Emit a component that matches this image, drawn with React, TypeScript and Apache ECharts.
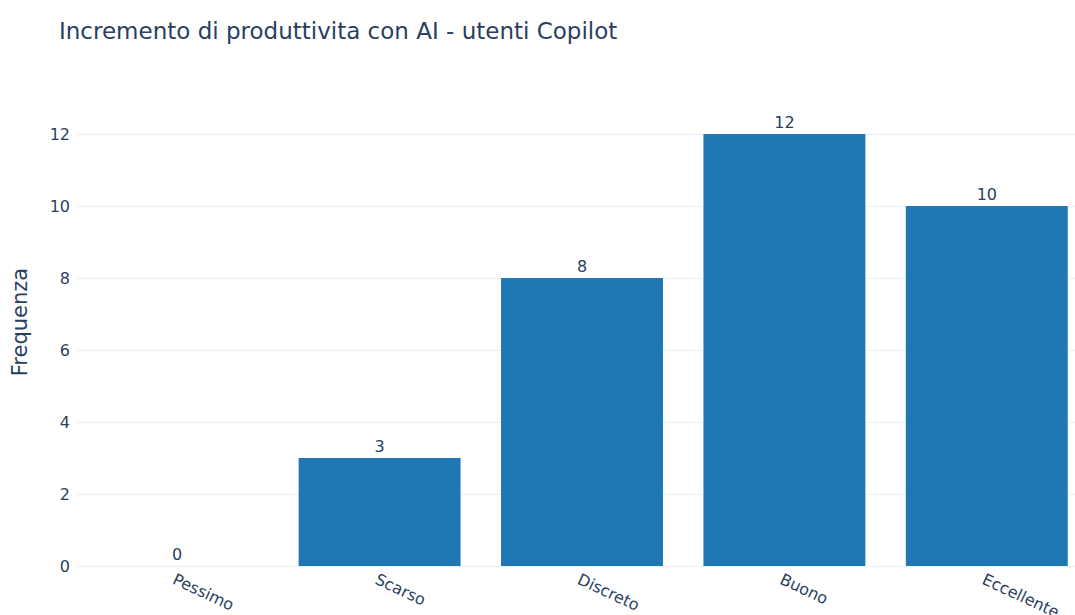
import React, { useEffect, useRef } from "react";
import * as echarts from "echarts";

const categories = ["Pessimo", "Scarso", "Discreto", "Buono", "Eccellente"];
const values = [0, 3, 8, 12, 10];
const titleText = "Incremento di produttivita con AI - utenti Copilot";
const yAxisTitle = "Frequenza";

const FONT = "'DejaVu Sans', Verdana, sans-serif";
const TEXT = "#2a3f5f";

export default function App() {
  const ref = useRef<HTMLDivElement>(null);
  useEffect(() => {
    const chart = echarts.init(ref.current!, null, { renderer: "svg" });
    chart.setOption({
      animation: false,
      backgroundColor: "#ffffff",
      title: {
        text: titleText,
        left: 54,
        top: 14,
        textStyle: { color: TEXT, fontFamily: FONT, fontSize: 23, fontWeight: "normal" },
      },
      grid: {
        left: 76,
        width: 1012,
        top: 134,
        height: 432,
        containLabel: false,
        outerBoundsMode: "none",
      },
      xAxis: {
        type: "category",
        data: categories,
        axisLine: { show: false },
        axisTick: { show: false },
        axisLabel: {
          rotate: -25,
          align: "left",
          verticalAlign: "top",
          margin: 5,
          color: TEXT,
          fontFamily: FONT,
          fontSize: 16,
          interval: 0,
        },
      },
      yAxis: {
        type: "value",
        min: 0,
        max: 12,
        interval: 2,
        axisLine: { show: false },
        axisTick: { show: false },
        axisLabel: { color: TEXT, fontFamily: FONT, fontSize: 16, margin: 6 },
        splitLine: { lineStyle: { color: "#ebf0f8", width: 1 } },
      },
      graphic: [
        {
          type: "text",
          x: 20,
          y: 322,
          rotation: Math.PI / 2,
          style: {
            text: yAxisTitle,
            fill: TEXT,
            font: `21px ${FONT}`,
            align: "center",
            verticalAlign: "middle",
          },
        },
      ],
      series: [
        {
          type: "bar",
          data: values,
          barCategoryGap: "20%",
          itemStyle: { color: "#1f77b4" },
          label: {
            show: true,
            position: "top",
            distance: 4,
            color: TEXT,
            fontFamily: FONT,
            fontSize: 16,
          },
        },
      ],
    });
    return () => chart.dispose();
  }, []);
  return <div ref={ref} style={{ width: 1075, height: 615, position: "fixed", left: 0, top: 0 }} />;
}
